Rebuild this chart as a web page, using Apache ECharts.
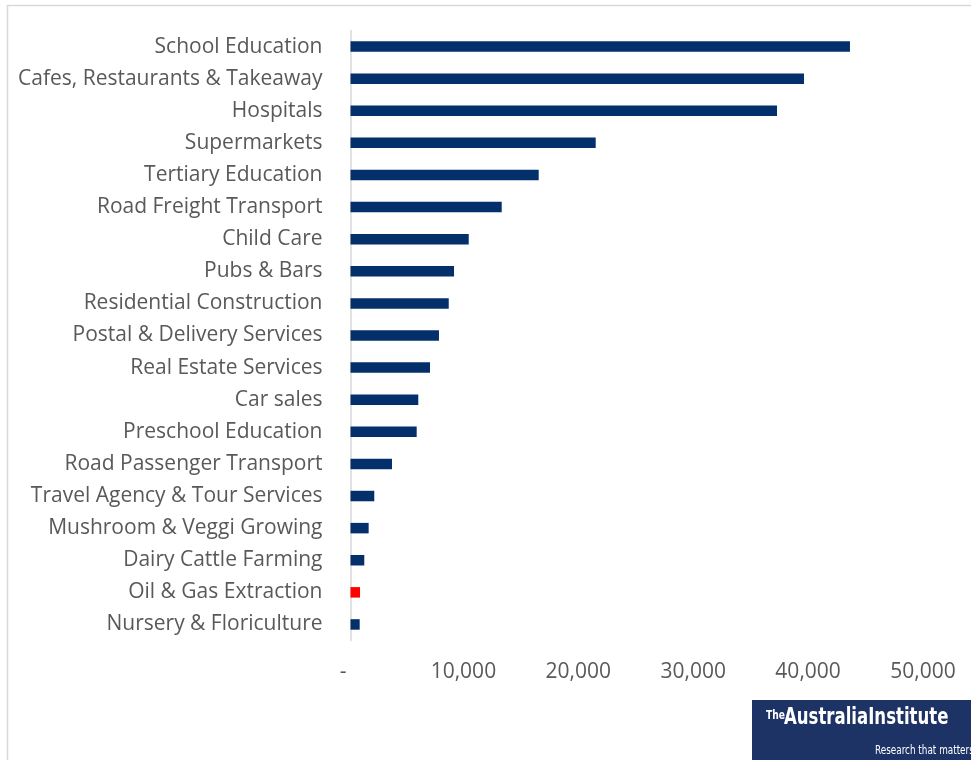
<!DOCTYPE html>
<html><head><meta charset="utf-8">
<script src="https://cdn.jsdelivr.net/npm/echarts@6/dist/echarts.min.js"></script>
<style>html,body{margin:0;padding:0;background:#fff}#c{width:971px;height:760px}</style>
</head><body><div id="c"></div>
<script>
const categories = ["School Education","Cafes, Restaurants & Takeaway","Hospitals","Supermarkets","Tertiary Education","Road Freight Transport","Child Care","Pubs & Bars","Residential Construction","Postal & Delivery Services","Real Estate Services","Car sales","Preschool Education","Road Passenger Transport","Travel Agency & Tour Services","Mushroom & Veggi Growing","Dairy Cattle Farming","Oil & Gas Extraction","Nursery & Floriculture"];
const values = [43470,39470,37120,21340,16380,13160,10290,9010,8550,7700,6920,5900,5760,3610,2070,1580,1200,830,800];
const highlight = "Oil & Gas Extraction";
const xTicks = [0,10000,20000,30000,40000,50000];

const chart = echarts.init(document.getElementById('c'));
const font = "'Open Sans', sans-serif";
const logoFont = "'DejaVu Sans Condensed', 'Liberation Sans', sans-serif";
chart.setOption({
  animation:false,
  grid:{left:350.5,right:46,top:30.5,height:610,containLabel:false},
  xAxis:{type:'value',min:0,max:50000,interval:10000,
    axisLine:{show:false},axisTick:{show:false},splitLine:{show:false},
    axisLabel:{margin:21,color:'#595959',fontSize:21,fontFamily:font,padding:[0,4,0,0],
      formatter:v=> v===xTicks[0]?'-  ':v.toLocaleString('en-US')}},
  yAxis:{type:'category',inverse:true,data:categories,
    axisLine:{show:true,lineStyle:{color:'#d9d9d9',width:1.5}},axisTick:{show:false},
    axisLabel:{margin:28,color:'#595959',fontSize:21,fontFamily:font,padding:[3,0,0,0]}},
  series:[{type:'bar',barWidth:10.5,
    data:values.map((v,i)=>({value:v,itemStyle:{color:categories[i]===highlight?'#FF0000':'#03306B'}}))}],
  graphic:[
    {type:'rect',shape:{x:7.5,y:5.5,width:1000,height:800},style:{fill:'none',stroke:'#d9d9d9',lineWidth:1.5},silent:true},
    {type:'rect',shape:{x:752,y:700,width:230,height:70},style:{fill:'#1d3265'}},
    {type:'text',x:766,y:710,scaleX:0.85,style:{text:'The',fill:'#fff',font:"bold 12px "+logoFont}},
    {type:'text',x:784,y:707,scaleX:0.8,style:{text:'AustraliaInstitute',fill:'#fff',font:"bold 23px "+logoFont}},
    {type:'text',x:875,y:745,scaleX:0.82,style:{text:'Research that matters',fill:'#fff',font:"12px "+logoFont}}
  ]
});
</script></body></html>
